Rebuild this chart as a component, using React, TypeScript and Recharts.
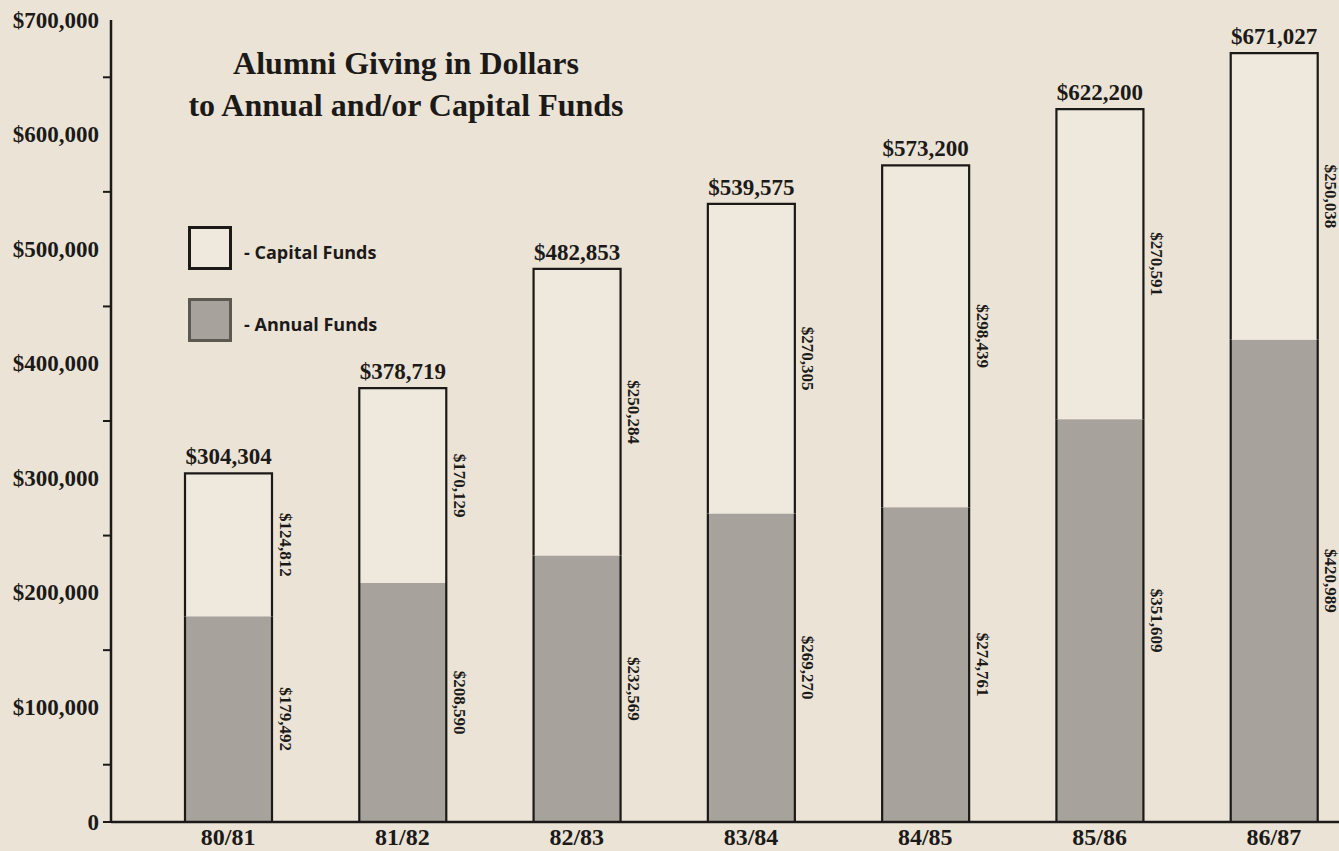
import { BarChart, Bar, XAxis, YAxis, LabelList, Legend } from 'recharts'

const categories = ['80/81', '81/82', '82/83', '83/84', '84/85', '85/86', '86/87']
const annualFunds = [179492, 208590, 232569, 269270, 274761, 351609, 420989]
const capitalFunds = [124812, 170129, 250284, 270305, 298439, 270591, 250038]
const totals = [304304, 378719, 482853, 539575, 573200, 622200, 671027]
const yTicks = [0, 50000, 100000, 150000, 200000, 250000, 300000, 350000, 400000, 450000, 500000, 550000, 600000, 650000, 700000]
const legendItems = [
  { key: 'capital', label: 'Capital Funds' },
  { key: 'annual', label: 'Annual Funds' },
]

const data = categories.map((year, i) => ({
  year,
  annual: annualFunds[i],
  capital: capitalFunds[i],
  total: totals[i],
}))

const BG = '#ebe3d6'
const PAPER = '#eee8dd'
const GREY = '#a7a39c'
const INK = '#1c1a18'
const SERIF = '"Liberation Serif", "Times New Roman", serif'

const money = (v: number) => '$' + v.toLocaleString('en-US')

// minor ticks at the half steps, labels on the 100k steps
const YTick = (props: any) => {
  const { y, payload } = props
  const v = payload.value
  if (v % 100000 !== 0) {
    return <line x1={103} x2={111} y1={y} y2={y} stroke={INK} strokeWidth={2} />
  }
  return (
    <g>
      {v === 0 && <line x1={103} x2={111} y1={y} y2={y} stroke={INK} strokeWidth={2} />}
      <text x={99} y={y} textAnchor="end" dominantBaseline="central" fontFamily={SERIF} fontWeight={700} fontSize={23} fill={INK}>
        {v === 0 ? '0' : money(v)}
      </text>
    </g>
  )
}

const CapitalShape = (props: any) => {
  const { x, y, width, height } = props
  return (
    <path
      d={`M${x},${y + height} V${y} H${x + width} V${y + height}`}
      fill={PAPER}
      stroke={INK}
      strokeWidth={2.2}
    />
  )
}

const AnnualShape = (props: any) => {
  const { x, y, width, height } = props
  return (
    <g>
      <rect x={x} y={y} width={width} height={height} fill={GREY} />
      <path d={`M${x},${y} V${y + height} M${x + width},${y} V${y + height}`} stroke={INK} strokeWidth={2.2} />
    </g>
  )
}

const SideLabel = (props: any) => {
  const { x, y, width, height, value } = props
  const cx = x + width + 13
  const cy = y + height / 2
  return (
    <text x={cx} y={cy} transform={`rotate(90 ${cx} ${cy})`} textAnchor="middle" dominantBaseline="central" fontFamily={SERIF} fontWeight={700} fontSize={17} fill={INK}>
      {money(value)}
    </text>
  )
}

const TopLabel = (props: any) => {
  const { x, y, width, value } = props
  return (
    <text x={x + width / 2} y={y - 9} textAnchor="middle" fontFamily={SERIF} fontWeight={700} fontSize={23} fill={INK}>
      {money(value)}
    </text>
  )
}

const LegendBox = () => (
  <div style={{ fontFamily: '"Open Sans", sans-serif', fontWeight: 700, fontSize: 18, color: INK }}>
    {legendItems.map((it, i) => (
      <div key={it.key} style={{ display: 'flex', alignItems: 'center', height: 44, marginBottom: i === 0 ? 28 : 0 }}>
        <div style={{
          width: 38,
          height: 38,
          boxSizing: 'content-box',
          border: it.key === 'capital' ? `3px solid ${INK}` : '3px solid #5c5852',
          background: it.key === 'capital' ? PAPER : GREY,
        }} />
        <span style={{ marginLeft: 12, paddingTop: 8 }}>- {it.label}</span>
      </div>
    ))}
  </div>
)

export default function App() {
  return (
    <div style={{ position: 'absolute', left: 0, top: 0, width: 1339, height: 851, overflow: 'hidden', background: BG }}>
      <div style={{
        position: 'absolute',
        left: 156,
        top: 42,
        width: 500,
        textAlign: 'center',
        fontFamily: SERIF,
        fontWeight: 700,
        fontSize: 32,
        lineHeight: '42px',
        color: INK,
        zIndex: 2,
      }}>
        Alumni Giving in Dollars
        <br />
        to Annual and/or Capital Funds
      </div>
      <BarChart width={1361} height={851} data={data} margin={{ top: 20, right: 0, bottom: 0, left: 0 }}>
        <XAxis
          dataKey="year"
          height={29}
          padding={{ left: 30, right: 0 }}
          axisLine={{ stroke: INK, strokeWidth: 2.5 }}
          tickLine={false}
          tickMargin={0}
          tick={{ fontFamily: SERIF, fontWeight: 700, fontSize: 24, fill: INK }}
        />
        <YAxis
          width={111}
          domain={[0, 700000]}
          ticks={yTicks}
          interval={0}
          axisLine={{ stroke: INK, strokeWidth: 2.5 }}
          tickLine={false}
          tick={<YTick />}
        />
        <Legend
          layout="vertical"
          align="center"
          verticalAlign="middle"
          content={() => <LegendBox />}
          wrapperStyle={{ left: 188, top: 226, width: 260 }}
        />
        <Bar dataKey="annual" name="Annual Funds" stackId="a" barSize={87} shape={<AnnualShape />} isAnimationActive={false}>
          <LabelList dataKey="annual" content={<SideLabel />} />
        </Bar>
        <Bar dataKey="capital" name="Capital Funds" stackId="a" barSize={87} shape={<CapitalShape />} isAnimationActive={false}>
          <LabelList dataKey="capital" content={<SideLabel />} />
          <LabelList dataKey="total" content={<TopLabel />} />
        </Bar>
      </BarChart>
    </div>
  )
}
